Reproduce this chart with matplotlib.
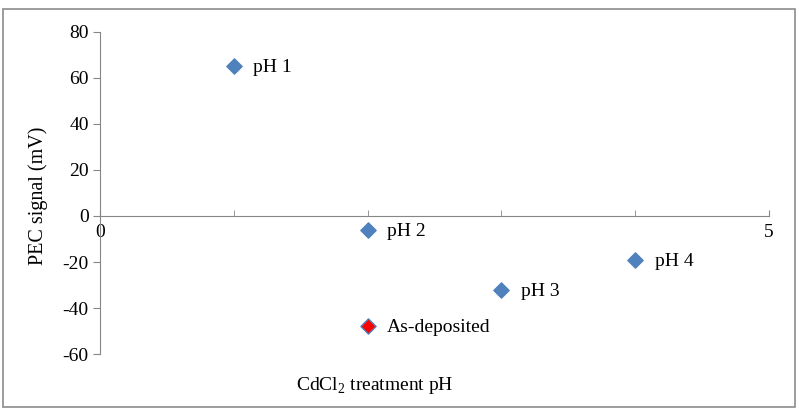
import matplotlib
matplotlib.use('Agg')
import matplotlib.pyplot as plt
from matplotlib.patches import Rectangle

# Data
treatment_ph = [1, 2, 3, 4]
pec_signal = [65, -6, -32, -19]
point_labels = ['pH 1', 'pH 2', 'pH 3', 'pH 4']

asdep_x = [2]
asdep_y = [-48]
asdep_label = 'As-deposited'

plt.rcParams['font.family'] = ['Liberation Serif', 'DejaVu Serif']
plt.rcParams['axes.unicode_minus'] = False
plt.rcParams['mathtext.fontset'] = 'custom'
plt.rcParams['mathtext.rm'] = 'Liberation Serif'

fig = plt.figure(figsize=(7.99, 4.18), dpi=100)
ax = fig.add_axes([0.125, 0.153, 0.8375, 0.7706])

# Outer chart border (Excel-style)
fig.patches.append(Rectangle((3 / 799, 1 - 407 / 418), 792 / 799, 398 / 418,
                             transform=fig.transFigure, fill=False,
                             edgecolor='#8c8c8c', linewidth=1.2))

blue = '#4F81BD'
ax.scatter(treatment_ph, pec_signal, marker='D', s=60, color=blue,
           edgecolors=blue, zorder=3)
ax.scatter(asdep_x, asdep_y, marker='D', s=60, color='#FF0000',
           edgecolors=blue, linewidths=1.0, zorder=3)

for x, y, lab in zip(treatment_ph, pec_signal, point_labels):
    ax.annotate(lab, (x, y), textcoords='offset points', xytext=(14, -1),
                va='center', ha='left', fontsize=14)
for x, y in zip(asdep_x, asdep_y):
    ax.annotate(asdep_label, (x, y), textcoords='offset points', xytext=(14, -1),
                va='center', ha='left', fontsize=14)

ax.set_xlim(0, 5)
ax.set_ylim(-60, 80)
ax.set_yticks(range(-60, 81, 20))
ax.set_xticks([0, 5])
ax.set_xticks([1, 2, 3, 4], minor=True)

ax.spines['top'].set_visible(False)
ax.spines['right'].set_visible(False)
ax.spines['bottom'].set_position(('data', 0))
for s in ('left', 'bottom'):
    ax.spines[s].set_color('#868686')

ax.tick_params(axis='y', direction='out', length=5, color='#868686',
               labelsize=14, pad=3)
ax.tick_params(axis='x', which='both', direction='in', length=4,
               color='#868686', labelsize=14, pad=6)

ax.set_ylabel('PEC signal (mV)', fontsize=14.5)
ax.yaxis.set_label_coords(-0.078, 0.49)
fig.text(375 / 799, 1 - 386 / 418, r'CdCl$_\mathrm{2}$ treatment pH', ha='center',
         va='center', fontsize=14)

fig.savefig('out.png', dpi=100)
